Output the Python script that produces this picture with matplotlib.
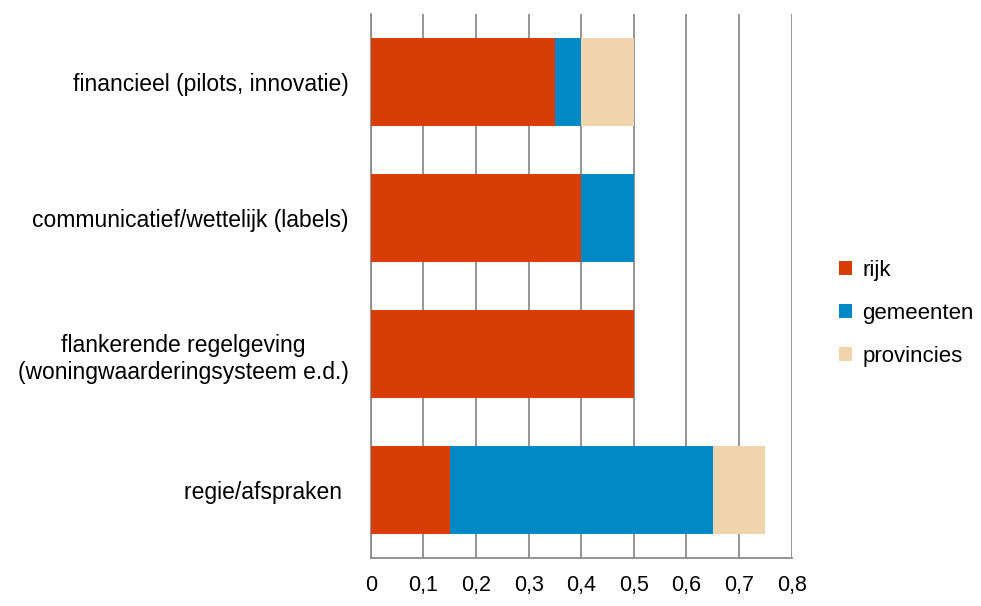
import matplotlib.pyplot as plt
import numpy as np

plt.rcParams['font.family'] = ['Liberation Sans', 'DejaVu Sans']

categories = ['financieel (pilots, innovatie)',
              'communicatief/wettelijk (labels)',
              'flankerende regelgeving\n(woningwaarderingsysteem e.d.)',
              'regie/afspraken ']
rijk = [0.35, 0.4, 0.5, 0.15]
gemeenten = [0.05, 0.1, 0.0, 0.5]
provincies = [0.1, 0.0, 0.0, 0.1]
ticks = [0, 0.1, 0.2, 0.3, 0.4, 0.5, 0.6, 0.7, 0.8]
tick_labels = ['0', '0,1', '0,2', '0,3', '0,4', '0,5', '0,6', '0,7', '0,8']

fig = plt.figure(figsize=(9.81, 6.06), dpi=100)
ax = fig.add_axes([0.378, 0.079, 0.429, 0.898])

y = np.arange(len(categories))
h = 0.65
left2 = np.array(rijk)
left3 = left2 + np.array(gemeenten)
ax.barh(y, rijk, height=h, color='#D63E06', label='rijk', zorder=3)
ax.barh(y, gemeenten, height=h, left=left2, color='#0089C4', label='gemeenten', zorder=3)
ax.barh(y, provincies, height=h, left=left3, color='#F0D4AE', label='provincies', zorder=3)

ax.set_xlim(0, 0.8)
ax.set_ylim(3.5, -0.5)
ax.set_xticks(ticks)
ax.set_xticklabels(tick_labels)
ax.set_yticks(y)
ax.set_yticklabels(categories, ha='right', multialignment='center',
                   linespacing=1.25)
ax.tick_params(axis='x', length=0, pad=12, labelsize=15.5)
ax.tick_params(axis='y', length=0, pad=16, labelsize=16.5)
ax.grid(axis='x', color='#8c8c8c', linewidth=1.3, zorder=0)
for s in ['top', 'right']:
    ax.spines[s].set_visible(False)
for s in ['left', 'bottom']:
    ax.spines[s].set_color('#8c8c8c')
    ax.spines[s].set_linewidth(1.3)

ax.legend(loc='center left', bbox_to_anchor=(1.065, 0.45), frameon=False,
          fontsize=16, handlelength=0.6, handleheight=0.6, handletextpad=0.45,
          labelspacing=1.0)

plt.savefig('out.png', dpi=100)
